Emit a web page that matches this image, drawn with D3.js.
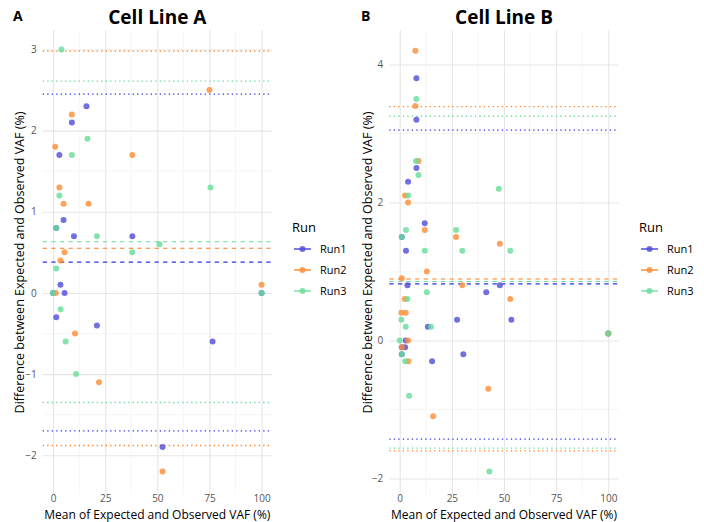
<!DOCTYPE html>
<html>
<head>
<meta charset="utf-8">
<script src="https://cdn.jsdelivr.net/npm/d3@7"></script>
<style>
  html, body { margin: 0; padding: 0; background: #fff; }
  svg { display: block; font-family: "Open Sans", "Noto Sans", sans-serif; }
</style>
</head>
<body>
<svg id="chart" width="704" height="522"></svg>
<script>
// ---------------- DATA ----------------
const runs = ["Run1", "Run2", "Run3"];
const xTicks = [0, 25, 50, 75, 100];

// Panel A : Cell Line A
const aRun1X = [16, 9, 3, 5, 1.5, 10, 38, 3.5, 0, 5.5, 100, 1.5, 21, 76.5, 52.5];
const aRun1Y = [2.3, 2.1, 1.7, 0.9, 0.8, 0.7, 0.7, 0.1, 0, 0, 0, -0.3, -0.4, -0.6, -1.9];
const aRun2X = [75, 9, 1, 38, 3, 5, 17, 3.5, 5.5, 100, 1.3, 10.5, 22, 52.5];
const aRun2Y = [2.5, 2.2, 1.8, 1.7, 1.3, 1.1, 1.1, 0.4, 0.5, 0.1, 0, -0.5, -1.1, -2.2];
const aRun3X = [4, 16.5, 9, 75.5, 3, 1.5, 21, 51, 38, 1.5, 0, 100, 3.6, 6, 11];
const aRun3Y = [3.0, 1.9, 1.7, 1.3, 1.2, 0.8, 0.7, 0.6, 0.5, 0.3, 0, 0, -0.2, -0.6, -1.0];
const aMean  = [0.38, 0.55, 0.63];
const aUpper = [2.45, 2.98, 2.61];
const aLower = [-1.70, -1.88, -1.35];
const aYTicks = [-2, -1, 0, 1, 2, 3];

// Panel B : Cell Line B
const bRun1X = [8, 8, 8, 4, 12, 1, 3, 3.7, 48, 41.5, 27.5, 53.5, 13.5, 2.9, 1, 2.6, 1, 30.5, 15.5, 100];
const bRun1Y = [3.8, 3.2, 2.5, 2.3, 1.7, 1.5, 1.3, 0.8, 0.8, 0.7, 0.3, 0.3, 0.2, 0, -0.1, -0.1, -0.2, -0.2, -0.3, 0.1];
const bRun2X = [7.5, 7.5, 9, 2.5, 4, 12, 27, 48, 13, 1, 30, 2.4, 53, 0.8, 2.9, 4, 1, 4.1, 42.5, 16, 100];
const bRun2Y = [4.2, 3.4, 2.6, 2.1, 2.0, 1.6, 1.5, 1.4, 1.0, 0.9, 0.8, 0.6, 0.6, 0.4, 0.4, 0, -0.1, -0.3, -0.7, -1.1, 0.1];
const bRun3X = [8, 7.8, 9, 4, 47.5, 3, 27, 1, 12, 30, 53, 13, 3.7, 0.8, 2.9, 15, 0, 1, 2.6, 4.5, 43, 100];
const bRun3Y = [3.5, 2.6, 2.4, 2.1, 2.2, 1.6, 1.6, 1.5, 1.3, 1.3, 1.3, 0.7, 0.6, 0.3, 0.2, 0.2, 0, -0.2, -0.3, -0.8, -1.9, 0.1];
const bMean  = [0.82, 0.89, 0.855];
const bUpper = [3.05, 3.39, 3.25];
const bLower = [-1.43, -1.60, -1.56];
const bYTicks = [-2, 0, 2, 4];

// ---------------- STYLE ----------------
const pointColor = {Run1: "#4c4cd8", Run2: "#ff8c33", Run3: "#66dd99"};
const lineColor  = {Run1: "#3333e6", Run2: "#ff7f1a", Run3: "#66dd99"};

const svg = d3.select("#chart");

function zipRun(xs, ys, run) { return xs.map((x, i) => ({x: x, y: ys[i], run: run})); }

function drawPanel(cfg) {
  const g = svg.append("g");
  const x = d3.scaleLinear().domain([-5, 105]).range([cfg.left, cfg.right]);
  const y = d3.scaleLinear().domain(cfg.yDomain).range([cfg.bottom, cfg.top]);

  // minor grid
  const xMinor = [12.5, 37.5, 62.5, 87.5];
  const yMinor = [];
  for (let i = 0; i < cfg.yTicks.length - 1; i++) yMinor.push((cfg.yTicks[i] + cfg.yTicks[i + 1]) / 2);
  const step = cfg.yTicks[1] - cfg.yTicks[0];
  yMinor.push(cfg.yTicks[0] - step / 2, cfg.yTicks[cfg.yTicks.length - 1] + step / 2);
  const yMinorIn = yMinor.filter(v => v > cfg.yDomain[0] && v < cfg.yDomain[1]);

  g.append("g").selectAll("line").data(xMinor).join("line")
    .attr("x1", d => x(d)).attr("x2", d => x(d)).attr("y1", cfg.top).attr("y2", cfg.bottom)
    .attr("stroke", "#f0f0f0").attr("stroke-width", 0.6);
  g.append("g").selectAll("line").data(yMinorIn).join("line")
    .attr("y1", d => y(d)).attr("y2", d => y(d)).attr("x1", cfg.left).attr("x2", cfg.right)
    .attr("stroke", "#f0f0f0").attr("stroke-width", 0.6);

  // major grid via axes
  const fmt = d3.format("d");
  const xAxis = d3.axisBottom(x).tickValues(xTicks).tickFormat(fmt).tickSize(-(cfg.bottom - cfg.top));
  const yAxis = d3.axisLeft(y).tickValues(cfg.yTicks).tickFormat(fmt).tickSize(-(cfg.right - cfg.left));
  const gx = g.append("g").attr("transform", `translate(0,${cfg.bottom})`).call(xAxis);
  const gy = g.append("g").attr("transform", `translate(${cfg.left},0)`).call(yAxis);
  [gx, gy].forEach(a => {
    a.select(".domain").remove();
    a.selectAll(".tick line").attr("stroke", "#e6e6e6").attr("stroke-width", 1.1);
    a.selectAll(".tick text").attr("fill", "#555").attr("font-size", 10)
      .attr("font-family", "'Open Sans', sans-serif");
  });
  gx.selectAll(".tick text").attr("y", 0).attr("dy", "0.71em");
  gy.selectAll(".tick text").attr("x", -6);

  // reference lines
  const refs = [];
  runs.forEach((r, i) => {
    refs.push({run: r, v: cfg.upper[i], type: "dot"});
    refs.push({run: r, v: cfg.lower[i], type: "dot"});
    refs.push({run: r, v: cfg.mean[i], type: "dash"});
  });
  g.append("g").selectAll("line").data(refs).join("line")
    .attr("x1", cfg.left).attr("x2", cfg.right)
    .attr("y1", d => y(d.v)).attr("y2", d => y(d.v))
    .attr("stroke", d => lineColor[d.run])
    .attr("stroke-width", d => d.type === "dot" ? 1.3 : 1.1)
    .attr("stroke-dasharray", d => d.type === "dot" ? "1.3,3.2" : "4.3,4.3");

  // points
  const pts = [].concat(zipRun(cfg.r1x, cfg.r1y, "Run1"), zipRun(cfg.r2x, cfg.r2y, "Run2"), zipRun(cfg.r3x, cfg.r3y, "Run3"));
  g.append("g").selectAll("circle").data(pts).join("circle")
    .attr("cx", d => x(d.x)).attr("cy", d => y(d.y)).attr("r", 3)
    .attr("fill", d => pointColor[d.run]).attr("fill-opacity", 0.8);

  // axis titles
  g.append("text").attr("x", (cfg.left + cfg.right) / 2).attr("y", 519)
    .attr("text-anchor", "middle").attr("font-size", 12).attr("fill", "#000")
    .text("Mean of Expected and Observed VAF (%)");
  g.append("text")
    .attr("transform", `translate(${cfg.yTitleX},${(cfg.top + cfg.bottom) / 2}) rotate(-90)`)
    .attr("text-anchor", "middle").attr("font-size", 12.5).attr("fill", "#000")
    .text("Difference between Expected and Observed VAF (%)");

  // title and tag
  g.append("text").attr("x", (cfg.left + cfg.right) / 2).attr("y", 24)
    .attr("text-anchor", "middle").attr("font-size", 19).attr("font-weight", "bold")
    .attr("fill", "#000").text(cfg.title);
  g.append("text").attr("x", cfg.tagX).attr("y", 21)
    .attr("font-size", 14).attr("font-weight", "bold").attr("fill", "#000").text(cfg.tag);

  // legend
  const lg = g.append("g").attr("transform", `translate(${cfg.legendX},0)`);
  lg.append("text").attr("x", 0).attr("y", 232).attr("font-size", 13).attr("fill", "#000").text("Run");
  runs.forEach((r, i) => {
    const yy = 249 + i * 21;
    lg.append("line").attr("x1", 2).attr("x2", 19).attr("y1", yy).attr("y2", yy)
      .attr("stroke", lineColor[r]).attr("stroke-width", 1.3);
    lg.append("circle").attr("cx", 10.5).attr("cy", yy).attr("r", 3)
      .attr("fill", pointColor[r]).attr("fill-opacity", 0.8);
    lg.append("text").attr("x", 28).attr("y", yy + 4).attr("font-size", 11).attr("fill", "#000").text(r);
  });
}

drawPanel({
  left: 42.7, right: 272, top: 30, bottom: 495,
  yDomain: [-2.49, 3.24], yTicks: aYTicks,
  r1x: aRun1X, r1y: aRun1Y, r2x: aRun2X, r2y: aRun2Y, r3x: aRun3X, r3y: aRun3Y,
  mean: aMean, upper: aUpper, lower: aLower,
  title: "Cell Line A", tag: "A", tagX: 13, yTitleX: 24, legendX: 292
});
drawPanel({
  left: 389.3, right: 618.7, top: 30, bottom: 495,
  yDomain: [-2.24, 4.50], yTicks: bYTicks,
  r1x: bRun1X, r1y: bRun1Y, r2x: bRun2X, r2y: bRun2Y, r3x: bRun3X, r3y: bRun3Y,
  mean: bMean, upper: bUpper, lower: bLower,
  title: "Cell Line B", tag: "B", tagX: 361, yTitleX: 372, legendX: 639
});
</script>
</body>
</html>
